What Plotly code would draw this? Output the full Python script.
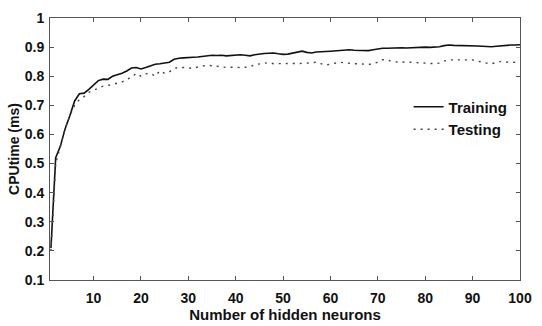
import plotly.graph_objects as go

neurons = list(range(1, 101))

training = [
    0.21, 0.52, 0.56, 0.62, 0.665, 0.715, 0.740, 0.742, 0.755, 0.770,
    0.785, 0.790, 0.789, 0.800, 0.805, 0.810, 0.818, 0.828, 0.830, 0.825,
    0.830, 0.835, 0.841, 0.843, 0.845, 0.848, 0.858, 0.862, 0.863, 0.863,
    0.865, 0.866, 0.868, 0.871, 0.872, 0.871, 0.872, 0.870, 0.871, 0.873,
    0.874, 0.872, 0.870, 0.874, 0.877, 0.878, 0.879, 0.880, 0.877, 0.875,
    0.876, 0.880, 0.884, 0.886, 0.882, 0.880, 0.883, 0.885, 0.885, 0.886,
    0.887, 0.888, 0.890, 0.891, 0.889, 0.888, 0.889, 0.888, 0.891, 0.894,
    0.896, 0.896, 0.897, 0.897, 0.898, 0.897, 0.898, 0.899, 0.899, 0.900,
    0.899, 0.900, 0.901, 0.905, 0.907, 0.906, 0.906, 0.905, 0.905, 0.904,
    0.904, 0.903, 0.902, 0.901, 0.903, 0.905, 0.907, 0.907, 0.907, 0.908,
]

testing = [
    0.20, 0.50, 0.56, 0.62, 0.665, 0.70, 0.720, 0.730, 0.745, 0.752,
    0.760, 0.766, 0.768, 0.772, 0.775, 0.780, 0.790, 0.795, 0.810, 0.800,
    0.808, 0.810, 0.800, 0.819, 0.810, 0.815, 0.827, 0.830, 0.830, 0.829,
    0.827, 0.832, 0.835, 0.838, 0.836, 0.834, 0.832, 0.830, 0.831, 0.830,
    0.830, 0.831, 0.832, 0.840, 0.843, 0.845, 0.847, 0.843, 0.843, 0.842,
    0.843, 0.842, 0.843, 0.844, 0.845, 0.847, 0.848, 0.843, 0.838, 0.842,
    0.846, 0.848, 0.846, 0.844, 0.843, 0.843, 0.842, 0.840, 0.844, 0.848,
    0.857, 0.856, 0.850, 0.848, 0.848, 0.849, 0.848, 0.848, 0.847, 0.846,
    0.845, 0.843, 0.845, 0.852, 0.856, 0.855, 0.856, 0.856, 0.857, 0.856,
    0.852, 0.848, 0.845, 0.843, 0.847, 0.851, 0.849, 0.847, 0.848, 0.845,
]

x_ticks = [10, 20, 30, 40, 50, 60, 70, 80, 90, 100]
y_ticks = [0.1, 0.2, 0.3, 0.4, 0.5, 0.6, 0.7, 0.8, 0.9, 1.0]
y_tick_labels = ["0.1", "0.2", "0.3", "0.4", "0.5", "0.6", "0.7", "0.8", "0.9", "1"]

FONT = "Liberation Sans, Arial, sans-serif"

fig = go.Figure()
fig.add_trace(go.Scatter(
    x=neurons, y=training, mode="lines", name="Training",
    line=dict(color="#111111", width=1.6),
))
fig.add_trace(go.Scatter(
    x=neurons, y=testing, mode="lines", name="Testing",
    line=dict(color="#444444", width=1.4, dash="2px,5px"),
))

axis_common = dict(
    showline=True, linecolor="#555555", linewidth=1, mirror="ticks",
    ticks="inside", ticklen=4, tickcolor="#555555", tickwidth=1,
    showgrid=False, zeroline=False,
    tickfont=dict(family=FONT, size=14, color="#111111", weight="bold"),
)

fig.update_layout(
    width=542, height=326,
    margin=dict(l=50, r=13, t=10, b=38),
    paper_bgcolor="white", plot_bgcolor="white",
    font=dict(family=FONT, color="#111111"),
    xaxis=dict(
        range=[0.8, 100], tickvals=x_ticks,
        title=dict(text="Number of hidden neurons", standoff=0,
                   font=dict(family=FONT, size=15, color="#111111", weight="bold")),
        ticklabelstandoff=5,
        **axis_common,
    ),
    yaxis=dict(
        range=[0.1, 1.0], tickvals=y_ticks, ticktext=y_tick_labels,
        title=dict(text="CPUtime (ms)", standoff=1,
                   font=dict(family=FONT, size=14, color="#111111", weight="bold")),
        ticklabelstandoff=2,
        **axis_common,
    ),
    legend=dict(
        x=0.763, y=0.723, xanchor="left", yanchor="top",
        bgcolor="rgba(0,0,0,0)", borderwidth=0,
        font=dict(family=FONT, size=15, color="#111111", weight="bold"),
        itemwidth=30, tracegroupgap=0,
    ),
    showlegend=True,
)

fig.write_html("out.html")
